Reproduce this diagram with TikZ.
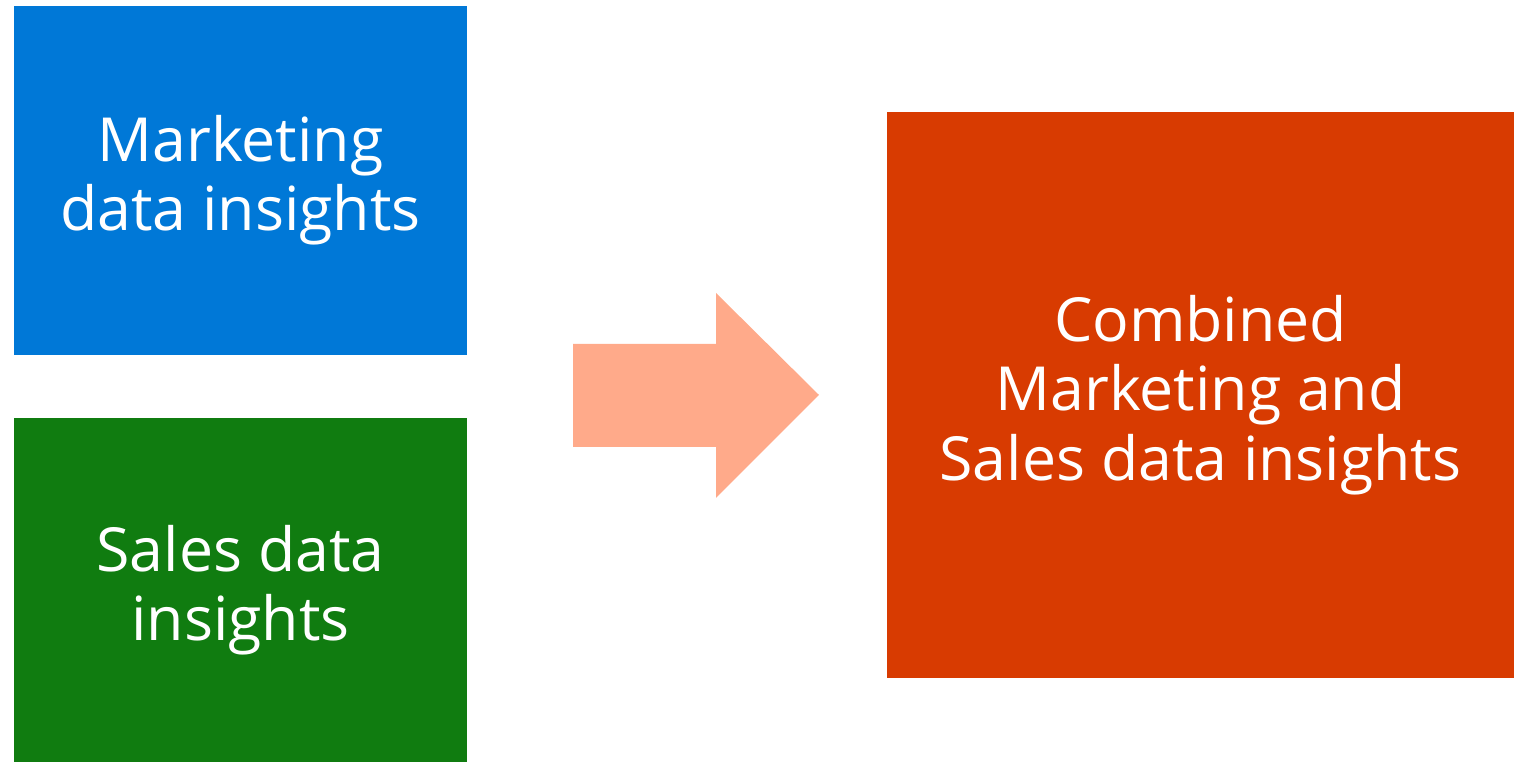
\documentclass[tikz,border=0pt]{standalone}
\usepackage{fontspec}
\setmainfont{Open Sans}
\usetikzlibrary{positioning}
\definecolor{mktblue}{HTML}{0078D7}
\definecolor{salesgreen}{HTML}{107C10}
\definecolor{combred}{HTML}{D83B01}
\definecolor{arrowpink}{HTML}{FFAA8A}
\tikzset{
	insightbox/.style={inner sep=0pt, text=white, align=center, font=\fontsize{17.3}{19.7}\selectfont}
}
\begin{document}
	\begin{tikzpicture}
		\useasboundingbox (0,0) rectangle (15.14,-7.63);
		\node[insightbox, fill=mktblue, minimum width=4.53cm, minimum height=3.49cm] (mkt) at (2.405,-1.805) {Marketing\\data insights};
		\node[insightbox, fill=salesgreen, minimum width=4.53cm, minimum height=3.44cm] (sales) at (2.405,-5.90) {Sales data\\insights};
		\node[insightbox, fill=combred, minimum width=6.27cm, minimum height=5.66cm] (comb) at (12.005,-3.95) {Combined\\Marketing and\\Sales data insights};
		\fill[arrowpink] (5.73,-3.44) -- (7.16,-3.44) -- (7.16,-2.93) -- (8.19,-3.95) -- (7.16,-4.98) -- (7.16,-4.47) -- (5.73,-4.47) -- cycle;
	\end{tikzpicture}
\end{document}
